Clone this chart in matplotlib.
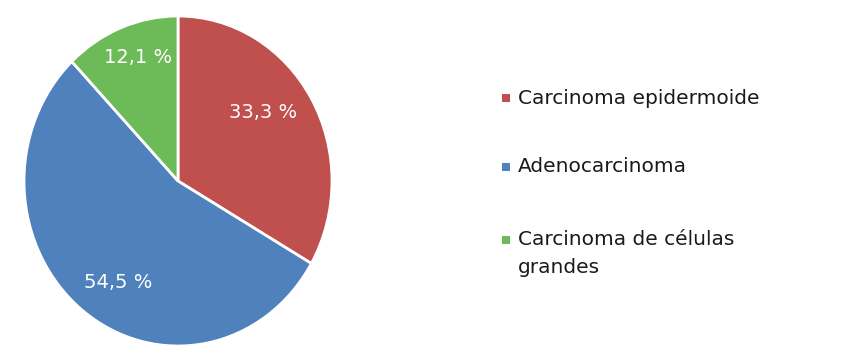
import matplotlib.pyplot as plt
import numpy as np
from matplotlib.patches import Rectangle

categorias = ['Carcinoma epidermoide', 'Adenocarcinoma', 'Carcinoma de células\ngrandes']
valores = [33.3, 54.5, 12.1]
etiquetas = ['33,3 %', '54,5 %', '12,1 %']
colores = ['#C0504D', '#4F81BD', '#6DBA58']

fig = plt.figure(figsize=(8.46, 3.64), dpi=100)
W, H = 846, 364

# pie drawn slightly taller than wide, like the original
ax = fig.add_axes([24 / W, (H - 346) / H, 308 / W, 330 / H])
wedges, _ = ax.pie(valores, colors=colores, startangle=90, counterclock=False,
                   wedgeprops=dict(edgecolor='white', linewidth=2))
ax.set_aspect('auto')
ax.set_xlim(-1, 1)
ax.set_ylim(-1, 1)

# label placement: radius and small angle shift per slice
radios = [0.69, 0.73, 0.79]
giros = [6.7, 5.9, -2.7]
for w, txt, r, g in zip(wedges, etiquetas, radios, giros):
    ang = np.deg2rad((w.theta1 + w.theta2) / 2 + g)
    ax.text(r * np.cos(ang), r * np.sin(ang), txt, color='white', fontsize=14,
            ha='center', va='center')

# legend
ys = [98, 167, 240]
for c, lab, y in zip(colores, categorias, ys):
    fig.patches.append(Rectangle((502 / W, (H - y - 4) / H), 8 / W, 8 / H,
                                 transform=fig.transFigure, facecolor=c, edgecolor='none'))
    if '\n' in lab:
        fig.text(518 / W, (H - y + 10) / H, lab, fontsize=14.5, color='#1a1a1a',
                 ha='left', va='top', linespacing=1.6)
    else:
        fig.text(518 / W, (H - y) / H, lab, fontsize=14.5, color='#1a1a1a',
                 ha='left', va='center')

plt.savefig('out.png', dpi=100)
